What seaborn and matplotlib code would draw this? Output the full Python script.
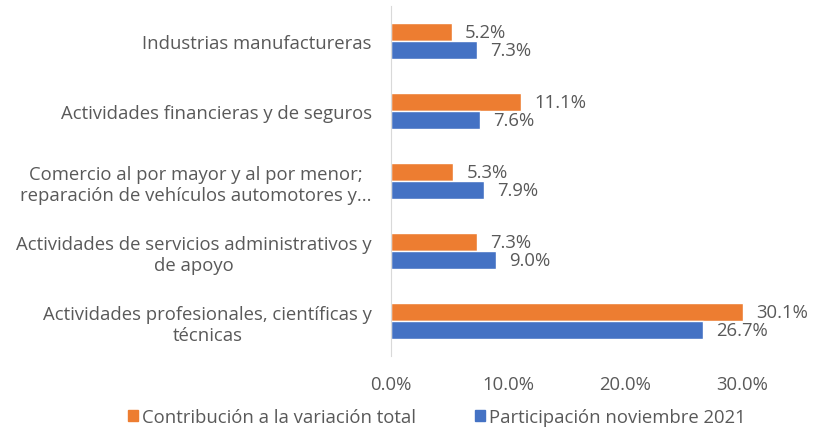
import matplotlib
matplotlib.use("Agg")
import matplotlib.pyplot as plt
import seaborn as sns
import pandas as pd
from matplotlib.ticker import FuncFormatter

categories = [
    "Industrias manufactureras",
    "Actividades financieras y de seguros",
    "Comercio al por mayor y al por menor;\nreparación de vehículos automotores y...",
    "Actividades de servicios administrativos y\nde apoyo",
    "Actividades profesionales, científicas y\ntécnicas",
]
contribucion = [5.2, 11.1, 5.3, 7.3, 30.1]
participacion = [7.3, 7.6, 7.9, 9.0, 26.7]
series_names = ["Contribución a la variación total", "Participación noviembre 2021"]
colors = ["#ED7D31", "#4472C4"]
x_ticks = [0, 10, 20, 30]

df = pd.DataFrame({
    "categoria": categories * 2,
    "valor": contribucion + participacion,
    "serie": [series_names[0]] * len(categories) + [series_names[1]] * len(categories),
})

sns.set_style("white")
plt.rcParams["font.family"] = ["Open Sans", "DejaVu Sans"]
text_color = "#595959"
fs = 13.3

fig = plt.figure(figsize=(8.15, 4.31), dpi=100)
ax = fig.add_axes([0.48, 0.172, 0.502, 0.812])

sns.barplot(data=df, x="valor", y="categoria", hue="serie", hue_order=series_names,
            palette=colors, orient="h", width=0.52, saturation=1, ax=ax, legend=False)

# data labels
for container in ax.containers:
    ax.bar_label(container, labels=["{:.1f}%".format(v) for v in container.datavalues],
                 padding=9.5, fontsize=fs, color=text_color)

ax.set_xlim(0, 35)
ax.set_xticks(x_ticks)
ax.xaxis.set_major_formatter(FuncFormatter(lambda v, p: "{:.1f}%".format(v)))
ax.set_xlabel("")
ax.set_ylabel("")

for side in ["top", "right", "bottom"]:
    ax.spines[side].set_visible(False)
ax.spines["left"].set_color("#D9D9D9")
ax.tick_params(axis="both", length=0, colors=text_color, labelsize=fs)
ax.tick_params(axis="y", pad=14)
ax.tick_params(axis="x", pad=14)
for label in ax.get_yticklabels():
    label.set_multialignment("center")
    label.set_linespacing(1.25)

handles = [plt.Rectangle((0, 0), 1, 1, color=c) for c in colors]
fig.legend(handles, series_names, loc="lower center", bbox_to_anchor=(0.536, -0.03),
           ncol=2, frameon=False, fontsize=13.3, labelcolor=text_color,
           handlelength=0.55, handleheight=0.55, handletextpad=0.2, columnspacing=3.2)

fig.savefig("out.png", dpi=100)
